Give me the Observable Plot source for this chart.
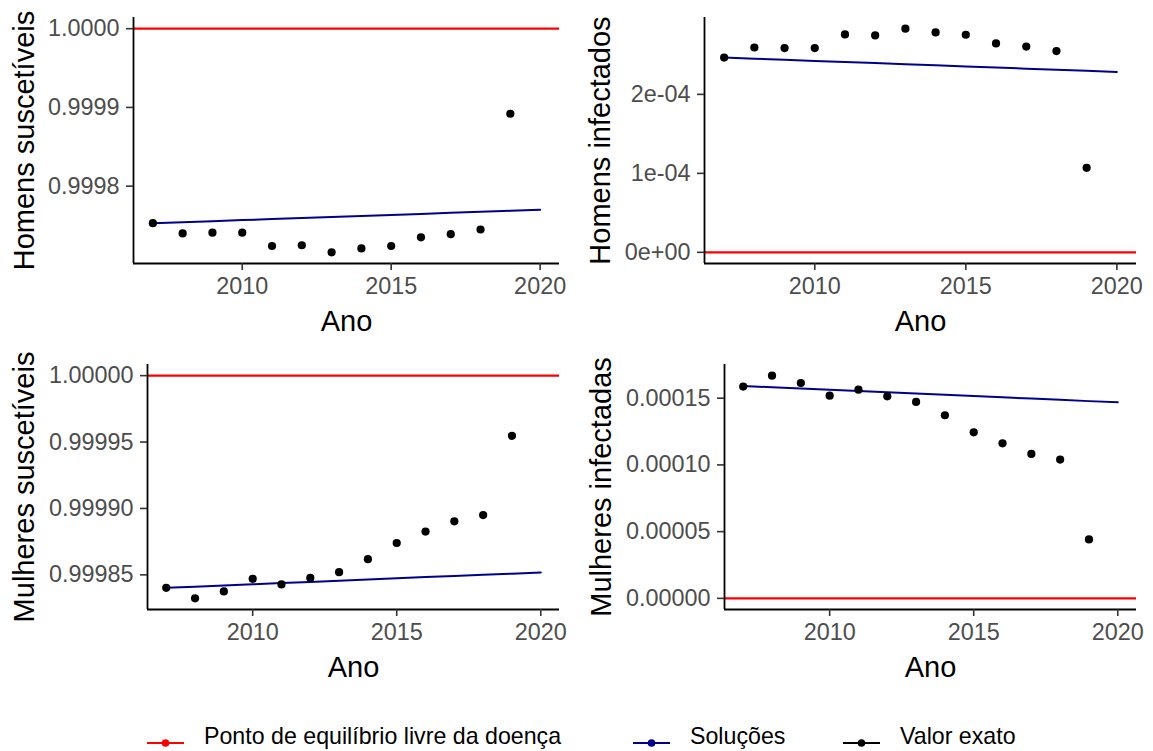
<!DOCTYPE html>
<html>
<head>
<meta charset="utf-8">
<script src="https://cdn.jsdelivr.net/npm/d3@7"></script>
<script src="https://cdn.jsdelivr.net/npm/@observablehq/plot@0.6"></script>
<style>
  html, body { margin: 0; padding: 0; background: #fff; }
  #root { position: relative; width: 1153px; height: 751px; background: #fff; font-family: "Liberation Sans", Arial, sans-serif; overflow: hidden; }
  .panel { position: absolute; }
  .leg-key { position: absolute; }
  .leg-text { position: absolute; font-size: 23.2px; color: #000; line-height: 1; white-space: nowrap; }
</style>
</head>
<body>
<div id="root"></div>
<script>
// ---------- data ----------
const pointYears = [2007, 2008, 2009, 2010, 2011, 2012, 2013, 2014, 2015, 2016, 2017, 2018, 2019];
const lineYears  = [2007, 2008, 2009, 2010, 2011, 2012, 2013, 2014, 2015, 2016, 2017, 2018, 2019, 2020];

// Valor exato (points)
const homensSuscExato = [0.999753, 0.999740, 0.999741, 0.999741, 0.999724, 0.999725, 0.999716, 0.999721, 0.999724, 0.999735, 0.999739, 0.999745, 0.999892];
const homensInfExato  = [2.466e-4, 2.594e-4, 2.586e-4, 2.586e-4, 2.759e-4, 2.747e-4, 2.832e-4, 2.785e-4, 2.755e-4, 2.645e-4, 2.606e-4, 2.548e-4, 1.070e-4];
const mulheresSuscExato = [0.9998402, 0.9998323, 0.9998375, 0.9998470, 0.9998428, 0.9998477, 0.9998520, 0.9998618, 0.9998740, 0.9998826, 0.9998903, 0.9998950, 0.9999547];
const mulheresInfExato  = [15.87e-5, 16.69e-5, 16.14e-5, 15.19e-5, 15.64e-5, 15.14e-5, 14.72e-5, 13.72e-5, 12.44e-5, 11.62e-5, 10.82e-5, 10.40e-5, 4.42e-5];

// Soluções (lines)
const homensSuscSol = [0.9997530, 0.9997543, 0.9997556, 0.9997569, 0.9997582, 0.9997595, 0.9997608, 0.9997622, 0.9997635, 0.9997648, 0.9997661, 0.9997674, 0.9997687, 0.9997700];
const homensInfSol  = [2.466e-4, 2.452e-4, 2.438e-4, 2.424e-4, 2.410e-4, 2.396e-4, 2.382e-4, 2.368e-4, 2.354e-4, 2.340e-4, 2.326e-4, 2.312e-4, 2.298e-4, 2.284e-4];
const mulheresSuscSol = [0.9998402, 0.9998411, 0.9998420, 0.9998429, 0.9998438, 0.9998447, 0.9998456, 0.9998465, 0.9998474, 0.9998483, 0.9998492, 0.9998500, 0.9998509, 0.9998518];
const mulheresInfSol  = [15.91e-5, 15.82e-5, 15.72e-5, 15.63e-5, 15.54e-5, 15.44e-5, 15.35e-5, 15.25e-5, 15.16e-5, 15.07e-5, 14.97e-5, 14.88e-5, 14.78e-5, 14.69e-5];

// Ponto de equilíbrio livre da doença
const equilSusc = 1;
const equilInf = 0;

// Tick values
const xTicks = [2010, 2015, 2020];
const yTicksHS = [0.9998, 0.9999, 1.0];
const yTicksHI = [0, 1e-4, 2e-4];
const yTicksMS = [0.99985, 0.9999, 0.99995, 1.0];
const yTicksMI = [0, 5e-5, 1e-4, 1.5e-4];

const yTitles = ["Homens suscetíveis", "Homens infectados", "Mulheres suscetíveis", "Mulheres infectadas"];
const xTitle = "Ano";

const legendLabels = ["Ponto de equilíbrio livre da doença", "Soluções", "Valor exato"];
const legendColors = ["#FF0000", "#00008B", "#000000"];

// ---------- helpers ----------
const FONT = "Liberation Sans, Arial, sans-serif";
const sciFmt = d => {
  const [m, e] = d.toExponential(0).split("e");
  return m + "e" + e[0] + e.slice(1).padStart(2, "0");
};
function expand(vals) {
  const [lo, hi] = d3.extent(vals);
  const pad = (hi - lo) * 0.05;
  return [lo - pad, hi + pad];
}
const xMin = d3.min(lineYears), xMax = d3.max(lineYears);
const xDomain = [xMin - (xMax - xMin) * 0.05, xMax + (xMax - xMin) * 0.05];

function panel({exato, sol, equil, yTicks, yFmt, yTitle, width, height, ml, mr, mt, mb, titleX}) {
  const pts = pointYears.map((ano, i) => ({ano, v: exato[i]}));
  const lns = lineYears.map((ano, i) => ({ano, v: sol[i]}));
  const yDomain = expand([...exato, ...sol, equil]);
  return Plot.plot({
    width, height,
    marginLeft: ml, marginRight: mr, marginTop: mt, marginBottom: mb,
    style: {fontFamily: FONT, background: "white", overflow: "visible"},
    x: {domain: xDomain},
    y: {domain: yDomain},
    marks: [
      Plot.ruleY([equil], {stroke: "#FF0000", strokeWidth: 2.2}),
      Plot.line(lns, {x: "ano", y: "v", stroke: "#00008B", strokeWidth: 2}),
      Plot.dot(pts, {x: "ano", y: "v", r: 4.1, fill: "#000", stroke: null}),
      Plot.ruleX([xDomain[0]], {stroke: "#000", strokeWidth: 1.8}),
      Plot.ruleY([yDomain[0]], {stroke: "#000", strokeWidth: 1.8}),
      Plot.axisX({ticks: xTicks, tickFormat: "d", tickSize: 7, tickPadding: 7, fontSize: 23.4,
                  fill: "#4D4D4D", stroke: "#333333", strokeWidth: 1.6, label: null}),
      Plot.axisY({ticks: yTicks, tickFormat: yFmt, tickSize: 7, tickPadding: 7, fontSize: 23.4,
                  fill: "#4D4D4D", stroke: "#333333", strokeWidth: 1.6, label: null}),
      Plot.text([xTitle], {frameAnchor: "bottom", dy: 58, lineAnchor: "middle", textAnchor: "middle", fontSize: 29, fill: "#000", text: d => d}),
      Plot.text([yTitle], {frameAnchor: "left", dx: titleX - ml, rotate: -90, lineAnchor: "middle", textAnchor: "middle", fontSize: 29, fill: "#000", text: d => d})
    ]
  });
}

const root = document.getElementById("root");
const specs = [
  {left: 0,   top: 0,   exato: homensSuscExato,   sol: homensSuscSol,   equil: equilSusc, yTicks: yTicksHS, yFmt: d3.format(".4f"), yTitle: yTitles[0], width: 576, height: 340, ml: 133, mr: 17, mt: 17, mb: 77, titleX: 24},
  {left: 576, top: 0,   exato: homensInfExato,    sol: homensInfSol,    equil: equilInf,  yTicks: yTicksHI, yFmt: sciFmt,           yTitle: yTitles[1], width: 577, height: 340, ml: 128, mr: 17, mt: 17, mb: 77, titleX: 24},
  {left: 0,   top: 340, exato: mulheresSuscExato, sol: mulheresSuscSol, equil: equilSusc, yTicks: yTicksMS, yFmt: d3.format(".5f"), yTitle: yTitles[2], width: 576, height: 340, ml: 147, mr: 17, mt: 24, mb: 71, titleX: 24},
  {left: 576, top: 340, exato: mulheresInfExato,  sol: mulheresInfSol,  equil: equilInf,  yTicks: yTicksMI, yFmt: d3.format(".5f"), yTitle: yTitles[3], width: 577, height: 340, ml: 148, mr: 17, mt: 24, mb: 71, titleX: 25}
];
for (const s of specs) {
  const div = document.createElement("div");
  div.className = "panel";
  div.style.left = s.left + "px";
  div.style.top = s.top + "px";
  div.appendChild(panel(s));
  root.appendChild(div);
}

// ---------- legend ----------
const keyLeft = [147, 633, 843];
const legendKeyY = 743;
const legendTextTop = 725;
legendLabels.forEach((lab, i) => {
  const key = document.createElementNS("http://www.w3.org/2000/svg", "svg");
  key.setAttribute("width", 37);
  key.setAttribute("height", 16);
  key.setAttribute("class", "leg-key");
  key.style.left = keyLeft[i] + "px";
  key.style.top = (legendKeyY - 8) + "px";
  const ln = document.createElementNS("http://www.w3.org/2000/svg", "line");
  ln.setAttribute("x1", 0); ln.setAttribute("x2", 37); ln.setAttribute("y1", 8); ln.setAttribute("y2", 8);
  ln.setAttribute("stroke", legendColors[i]); ln.setAttribute("stroke-width", 2.2);
  const c = document.createElementNS("http://www.w3.org/2000/svg", "circle");
  c.setAttribute("cx", 18.5); c.setAttribute("cy", 8); c.setAttribute("r", 3.8);
  c.setAttribute("fill", legendColors[i]);
  key.appendChild(ln); key.appendChild(c);
  root.appendChild(key);
  const t = document.createElement("div");
  t.className = "leg-text";
  t.textContent = lab;
  t.style.left = (keyLeft[i] + 57) + "px";
  t.style.top = legendTextTop + "px";
  root.appendChild(t);
});
</script>
</body>
</html>
